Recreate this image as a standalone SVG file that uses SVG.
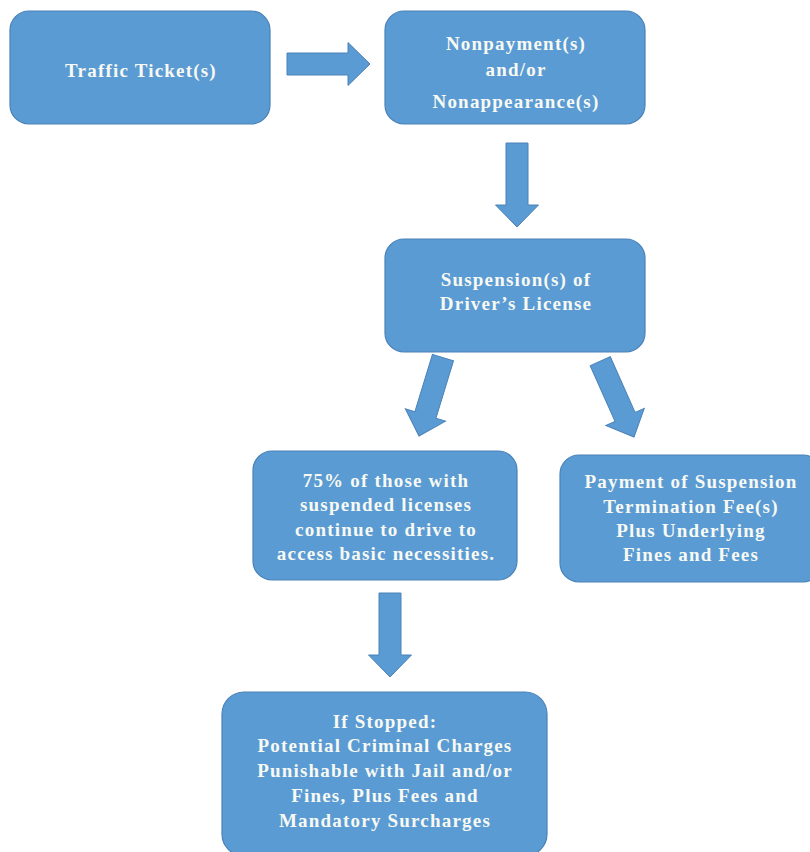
<svg xmlns="http://www.w3.org/2000/svg" width="810" height="852" viewBox="0 0 810 852">
<defs>
<style>
.box{fill:#5A9BD3;stroke:#4A82B8;stroke-width:1.2}
.arr{fill:#5A9BD3;stroke:#4A82B8;stroke-width:1}
.t{font-family:"Liberation Serif","Times New Roman",serif;font-weight:bold;font-size:19px;fill:#F7F9F2;text-anchor:middle;letter-spacing:1.2px}
</style>
</defs>
<rect width="810" height="852" fill="#ffffff"/>
<g id="connectors">
<path class="arr" transform="translate(370,64) rotate(-90)" d="M-11,-83 L11,-83 L11,-22 L21.5,-22 L0,0 L-21.5,-22 L-11,-22 Z"/>
<path class="arr" transform="translate(517,227)" d="M-11,-84 L11,-84 L11,-22 L21.5,-22 L0,0 L-21.5,-22 L-11,-22 Z"/>
<path class="arr" transform="translate(419,436) rotate(17)" d="M-11,-82 L11,-82 L11,-22 L21,-22 L0,0 L-21,-22 L-11,-22 Z"/>
<path class="arr" transform="translate(634,437) rotate(-24)" d="M-11,-83 L11,-83 L11,-22 L21,-22 L0,0 L-21,-22 L-11,-22 Z"/>
<path class="arr" transform="translate(390,677)" d="M-11,-84 L11,-84 L11,-22 L21.5,-22 L0,0 L-21.5,-22 L-11,-22 Z"/>
</g>
<g id="traffic">
<rect class="box" x="10" y="11" width="260" height="113" rx="19"/>
<text class="t" x="141" y="77">Traffic Ticket(s)</text>
</g>
<g id="nonpayment">
<rect class="box" x="385" y="11" width="260" height="113" rx="19"/>
<text class="t" x="516" y="50">Nonpayment(s)</text>
<text class="t" x="516" y="76">and/or</text>
<text class="t" x="516" y="108">Nonappearance(s)</text>
</g>
<g id="suspension">
<rect class="box" x="385" y="239" width="260" height="113" rx="19"/>
<text class="t" x="516" y="286">Suspension(s) of</text>
<text class="t" x="516" y="310">Driver’s License</text>
</g>
<g id="continue">
<rect class="box" x="253" y="451" width="264" height="129" rx="19"/>
<text class="t" x="386" y="487">75% of those with</text>
<text class="t" x="386" y="511">suspended licenses</text>
<text class="t" x="386" y="536">continue to drive to</text>
<text class="t" x="386" y="560">access basic necessities.</text>
</g>
<g id="payment">
<rect class="box" x="560" y="455" width="262" height="127" rx="19"/>
<text class="t" x="691" y="488">Payment of Suspension</text>
<text class="t" x="691" y="512.5">Termination Fee(s)</text>
<text class="t" x="691" y="537">Plus Underlying</text>
<text class="t" x="691" y="561">Fines and Fees</text>
</g>
<g id="stopped">
<rect class="box" x="222" y="692" width="325" height="164" rx="22"/>
<text class="t" x="385" y="728">If Stopped:</text>
<text class="t" x="385" y="752">Potential Criminal Charges</text>
<text class="t" x="385" y="777">Punishable with Jail and/or</text>
<text class="t" x="385" y="802">Fines, Plus Fees and</text>
<text class="t" x="385" y="827">Mandatory Surcharges</text>
</g>
</svg>
